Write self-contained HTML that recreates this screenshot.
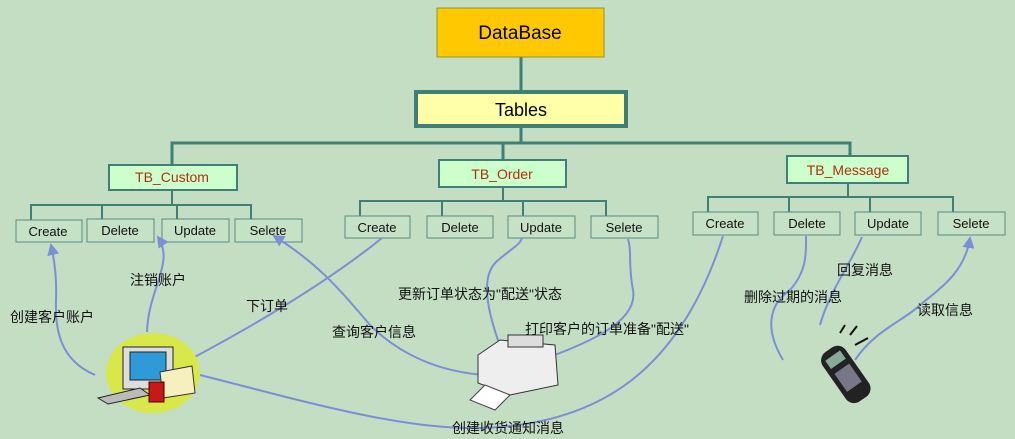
<!DOCTYPE html>
<html><head><meta charset="utf-8"><style>
html,body{margin:0;padding:0;background:#c4dec4;}
svg{display:block;font-family:"Liberation Sans","Noto Sans CJK SC",sans-serif;}
</style></head><body>
<svg width="1015" height="439" viewBox="0 0 1015 439" xmlns="http://www.w3.org/2000/svg">
<defs><marker id="a" markerWidth="8" markerHeight="8" refX="5" refY="3" orient="auto"><path d="M0,0 L6,3 L0,6 z" fill="#7a8fd6"/></marker></defs>
<rect width="1015" height="439" fill="#c4dec4"/>
<g stroke="#3f7f75" stroke-width="3" fill="none">
<line x1="521" y1="57" x2="521" y2="90"/>
<line x1="521" y1="127" x2="521" y2="143"/>
<polyline points="172,165 172,143 850,143 850,156"/>
<line x1="503" y1="143" x2="503" y2="160"/>
</g>
<g stroke="#3f7f75" stroke-width="2" fill="none">
<line x1="172" y1="190" x2="172" y2="205"/><polyline points="31,220 31,205 251,205 251,220"/><line x1="102" y1="205" x2="102" y2="220"/><line x1="177" y1="205" x2="177" y2="220"/>
<line x1="503" y1="187" x2="503" y2="201"/><polyline points="360,216 360,201 606,201 606,216"/><line x1="442" y1="201" x2="442" y2="216"/><line x1="523" y1="201" x2="523" y2="216"/>
<line x1="848" y1="183" x2="848" y2="197"/><polyline points="708,212 708,197 953,197 953,212"/><line x1="789" y1="197" x2="789" y2="212"/><line x1="870" y1="197" x2="870" y2="212"/>
</g>
<rect x="437" y="8" width="167" height="49" fill="#ffc800" stroke="#8a9a30" stroke-width="1"/>
<text x="520" y="39" font-size="19" text-anchor="middle">DataBase</text>
<rect x="416" y="92" width="210" height="34" fill="#ffffa8" stroke="#3f7f75" stroke-width="4"/>
<text x="521" y="116" font-size="18" text-anchor="middle">Tables</text>
<g stroke="#3f7f75" stroke-width="2" fill="#ccffcc">
<rect x="109" y="165" width="128" height="25"/><rect x="439" y="160" width="127" height="27"/><rect x="787" y="156" width="121" height="27"/>
</g>
<g font-size="14" fill="#b03010" text-anchor="middle">
<text x="172" y="182">TB_Custom</text><text x="502" y="179">TB_Order</text><text x="848" y="175">TB_Message</text>
</g>
<g stroke="#5a8a80" stroke-width="1" fill="#c6e2c6">
<rect x="16" y="220" width="66" height="22"/><rect x="87" y="219" width="67" height="23"/><rect x="162" y="219" width="67" height="23"/><rect x="235" y="219" width="67" height="23"/>
<rect x="345" y="216" width="65" height="22"/><rect x="427" y="216" width="66" height="22"/><rect x="508" y="216" width="67" height="22"/><rect x="591" y="216" width="67" height="22"/>
<rect x="693" y="212" width="65" height="23"/><rect x="774" y="212" width="66" height="23"/><rect x="855" y="212" width="66" height="23"/><rect x="938" y="212" width="67" height="23"/>
</g>
<g font-size="13" text-anchor="middle" fill="#111">
<text x="48" y="236">Create</text><text x="120" y="235">Delete</text><text x="195" y="235">Update</text><text x="268" y="235">Selete</text>
<text x="377" y="232">Create</text><text x="460" y="232">Delete</text><text x="541" y="232">Update</text><text x="624" y="232">Selete</text>
<text x="725" y="228">Create</text><text x="807" y="228">Delete</text><text x="888" y="228">Update</text><text x="971" y="228">Selete</text>
</g>
<g stroke="#7a8fd6" stroke-width="2" fill="none">
<path d="M95,375 C60,360 55,330 56,300 C57,275 54,258 51,245" marker-end="url(#a)"/>
<path d="M147,332 C148,290 175,262 158,237" marker-end="url(#a)"/>
<path d="M485,375 C440,372 400,355 370,325 C340,290 320,265 274,236" marker-end="url(#a)"/>
<path d="M150,380 C250,330 330,280 382,238"/>
<path d="M200,375 C300,400 400,430 480,428 C600,425 680,370 723,236"/>
<path d="M505,360 C490,320 478,280 496,262 C512,248 520,245 522,238"/>
<path d="M510,372 C560,352 640,330 633,290 C628,265 632,252 628,239"/>
<path d="M783,360 C765,330 768,305 790,290 C808,270 806,250 806,236"/>
<path d="M820,325 C830,290 850,265 862,237"/>
<path d="M855,360 C875,330 905,320 920,305 C945,285 965,270 970,238" marker-end="url(#a)"/>
</g>
<g font-size="14" fill="#111">
<text x="10" y="322">创建客户账户</text><text x="130" y="285">注销账户</text><text x="246" y="311">下订单</text>
<text x="332" y="337">查询客户信息</text><text x="398" y="299">更新订单状态为"配送"状态</text>
<text x="525" y="334">打印客户的订单准备"配送"</text><text x="452" y="433">创建收货通知消息</text>
<text x="744" y="302">删除过期的消息</text><text x="837" y="275">回复消息</text><text x="917" y="315">读取信息</text>
</g>
<!-- computer -->
<ellipse cx="153" cy="373" rx="47" ry="40" fill="#d8e84a"/>
<rect x="123" y="347" width="50" height="42" fill="#ddd" stroke="#222"/>
<rect x="130" y="352" width="36" height="28" fill="#2f9ad8" stroke="#222"/>
<polygon points="98,398 140,388 150,395 108,404" fill="#bbb" stroke="#222"/>
<polygon points="160,372 192,366 195,393 163,398" fill="#f6f0c0" stroke="#333"/>
<rect x="149" y="382" width="15" height="20" fill="#c81818" stroke="#400"/>
<!-- printer -->
<polygon points="478,355 500,340 555,345 558,385 510,395 478,383" fill="#eee" stroke="#333"/>
<polygon points="485,385 510,395 495,410 470,400" fill="#fff" stroke="#444"/>
<rect x="508" y="335" width="35" height="12" fill="#ddd" stroke="#333"/>
<!-- phone -->
<g transform="rotate(-35 845 375)"><rect x="832" y="345" width="28" height="60" rx="10" fill="#222"/><rect x="837" y="352" width="18" height="10" fill="#8a9"/><rect x="837" y="368" width="18" height="22" fill="#778"/></g>
<g stroke="#111" stroke-width="2"><line x1="840" y1="333" x2="845" y2="325"/><line x1="850" y1="335" x2="857" y2="326"/><line x1="855" y1="345" x2="868" y2="338"/></g>
</svg>
</body></html>
